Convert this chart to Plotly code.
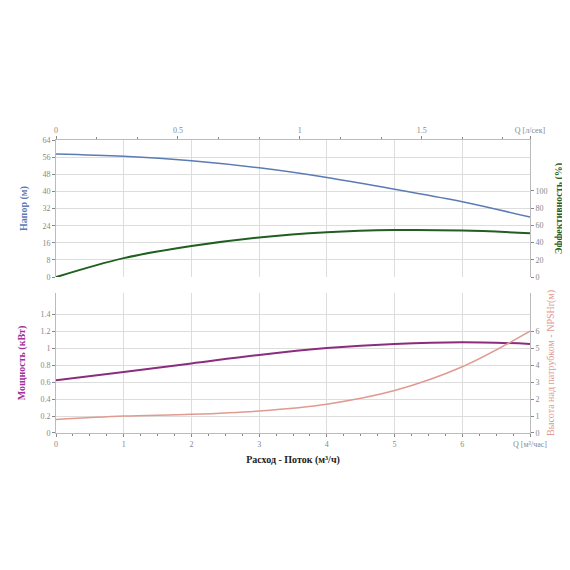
import plotly.graph_objects as go

q = [0, 1, 2, 3, 4, 5, 6, 7]  # m3/h
head = [57.5, 56.4, 54.3, 51.0, 46.5, 41.0, 35.2, 28.0]
eff = [0, 22, 36, 46, 52, 54.5, 54, 51]
power = [0.62, 0.72, 0.82, 0.92, 1.0, 1.05, 1.07, 1.05]
npsh = [0.8, 1.0, 1.1, 1.3, 1.7, 2.5, 3.9, 6.0]

font = "Liberation Serif"
grey = "#888"

fig = go.Figure()
fig.add_trace(go.Scatter(x=q, y=head, mode="lines", line=dict(color="#5b7bb5", width=1.5, shape="spline"), xaxis="x", yaxis="y"))
fig.add_trace(go.Scatter(x=q, y=eff, mode="lines", line=dict(color="#1f5f1f", width=2, shape="spline"), xaxis="x", yaxis="y2"))
fig.add_trace(go.Scatter(x=q, y=power, mode="lines", line=dict(color="#8b2c7e", width=2, shape="spline"), xaxis="x", yaxis="y3"))
fig.add_trace(go.Scatter(x=q, y=npsh, mode="lines", line=dict(color="#e09a90", width=1.5, shape="spline"), xaxis="x", yaxis="y4"))
# invisible trace to hold the top l/s axis
fig.add_trace(go.Scatter(x=[0, 7 / 3.6], y=[0, 0], mode="markers", marker=dict(opacity=0), xaxis="x2", yaxis="y", hoverinfo="skip"))

tick = dict(tickfont=dict(size=8, color=grey, family=font), ticks="outside", ticklen=3, automargin=False,
            tickcolor=grey, linecolor="#bbb", showline=True, gridcolor="#ddd", zeroline=False)
tick_ng = {k: v for k, v in tick.items() if k != "gridcolor"}

fig.update_layout(
    width=570, height=570, showlegend=False, plot_bgcolor="white", paper_bgcolor="white",
    margin=dict(l=48, r=48, t=132, b=145),
    font=dict(family=font),
    xaxis=dict(range=[0, 7], anchor="y3", tickvals=q, ticktext=["0", "1", "2", "3", "4", "5", "6", "Q [м³/час]"],
               title=dict(text="<b>Расход - Поток (м³/ч)</b>", font=dict(size=10, color="#222"), standoff=8),
               minor=dict(dtick=0.25, ticks="outside", ticklen=2, tickcolor=grey), **tick),
    xaxis2=dict(range=[0, 7 / 3.6], anchor="y", overlaying="x", side="top", tickvals=[0, 0.5, 1, 1.5, 7 / 3.6],
                ticktext=["0", "0.5", "1", "1.5", "Q [л/сек]"], showgrid=False,
                minor=dict(dtick=1 / 6, ticks="outside", ticklen=2, tickcolor=grey), **tick_ng),
    yaxis=dict(domain=[0.532, 1], range=[0, 64], dtick=8,
               title=dict(text="<b>Напор (м)</b>", font=dict(size=10, color="#5b7bb5"), standoff=12), **tick),
    yaxis2=dict(overlaying="y", side="right", range=[0, 159], tickvals=[0, 20, 40, 60, 80, 100], showgrid=False,
                title=dict(text="<b>Эффективность (%)</b>", font=dict(size=10, color="#1f5f1f"), standoff=8),
                **tick_ng),
    yaxis3=dict(domain=[0, 0.478], range=[0, 1.65], tickvals=[0, 0.2, 0.4, 0.6, 0.8, 1, 1.2, 1.4],
                title=dict(text="<b>Мощность (кВт)</b>", font=dict(size=10, color="#a0309a"), standoff=12), **tick),
    yaxis4=dict(overlaying="y3", side="right", range=[0, 8.25], tickvals=[0, 1, 2, 3, 4, 5, 6], showgrid=False,
                title=dict(text="Высота над патрубком - NPSHr(м)", font=dict(size=10, color="#e09a90"), standoff=8),
                **tick_ng),
)
fig.write_html("out.html")
